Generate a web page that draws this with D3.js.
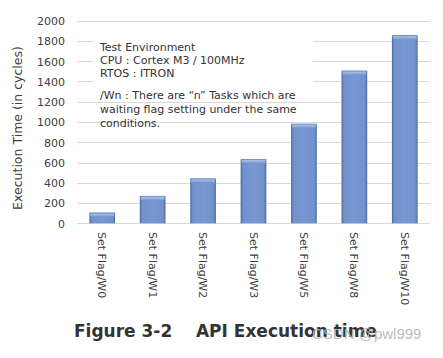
<!DOCTYPE html>
<html><head><meta charset="utf-8">
<script src="https://cdn.jsdelivr.net/npm/d3@7"></script>
<style>
html,body{margin:0;padding:0;background:#fff;}
svg{display:block;}
</style></head>
<body>
<script>
const categories = ["Set Flag/W0","Set Flag/W1","Set Flag/W2","Set Flag/W3","Set Flag/W5","Set Flag/W8","Set Flag/W10"];
const values = [105, 270, 442, 633, 982, 1506, 1856];
const yTicks = [0,200,400,600,800,1000,1200,1400,1600,1800,2000];
const noteLines1 = ["Test Environment","CPU : Cortex M3 / 100MHz","RTOS : ITRON"];
const noteLines2 = ["/Wn : There are \u201cn\u201d Tasks which are","waiting flag setting under the same","conditions."];
const yTitle = "Execution Time (in cycles)";
const figTitle = "Figure 3-2    API Execution time";
const watermark = "CSDN @pwl999";

const W = 443, H = 358;
const svg = d3.select("body").append("svg").attr("width", W).attr("height", H);
const font = "'DejaVu Sans', Verdana, sans-serif";

const x = d3.scaleBand().domain(categories).range([77, 430]).paddingInner(0.49).paddingOuter(0.245);
const y = d3.scaleLinear().domain([0, 2000]).range([223.3, 20.7]);

const defs = svg.append("defs");
const g = defs.append("linearGradient").attr("id","barg").attr("x1","0").attr("x2","1").attr("y1","0").attr("y2","0");
[[0,"#4d6ca6"],[0.1,"#7192cc"],[0.5,"#7798d1"],[0.9,"#7192cc"],[1,"#4d6ca6"]].forEach(([o,c])=>g.append("stop").attr("offset",o).attr("stop-color",c));
const gt = defs.append("linearGradient").attr("id","topg").attr("x1","0").attr("x2","0").attr("y1","0").attr("y2","1");
[[0,"#5f7fb8"],[0.35,"#a7bde4"],[1,"#7a9ad2"]].forEach(([o,c])=>gt.append("stop").attr("offset",o).attr("stop-color",c));

// gridlines
svg.append("g").selectAll("line").data(yTicks.filter(d=>d>0)).join("line")
  .attr("x1",77).attr("x2",430).attr("y1",d=>Math.round(y(d))+0.5).attr("y2",d=>Math.round(y(d))+0.5)
  .attr("stroke","#d9d9d9").attr("stroke-width",1);

// y axis labels
const yAxis = d3.axisLeft(y).tickValues(yTicks).tickFormat(d3.format("d")).tickSize(0).tickPadding(0);
const ya = svg.append("g").attr("transform","translate(65,0)").call(yAxis);
ya.select(".domain").remove();
ya.selectAll("text").attr("font-family",font).attr("font-size",11).attr("fill","#404040").attr("dy","0.35em");

// x axis line
svg.append("line").attr("x1",77).attr("x2",430).attr("y1",223.5).attr("y2",223.5).attr("stroke","#d9d9d9");

// note box (white backdrop)
svg.append("rect").attr("x",93).attr("y",34).attr("width",220).attr("height",54).attr("fill","#fff");
const note = svg.append("g").attr("font-family",font).attr("font-size",11).attr("fill","#333");
note.selectAll("text.n1").data(noteLines1).join("text").attr("class","n1")
  .attr("x",100).attr("y",(d,i)=>50.5+i*13.3).text(d=>d);
note.selectAll("text.n2").data(noteLines2).join("text").attr("class","n2")
  .attr("x",100).attr("y",(d,i)=>99+i*13.8).text(d=>d);

// bars
const bars = svg.append("g");
bars.selectAll("rect.b").data(values).join("rect").attr("class","b")
  .attr("x",(d,i)=>x(categories[i])).attr("width",x.bandwidth())
  .attr("y",d=>y(d)).attr("height",d=>y(0)-y(d)).attr("fill","url(#barg)");
bars.selectAll("rect.t").data(values).join("rect").attr("class","t")
  .attr("x",(d,i)=>x(categories[i])+1).attr("width",x.bandwidth()-2)
  .attr("y",d=>y(d)).attr("height",4).attr("fill","url(#topg)");

// x labels rotated
const xl = svg.append("g").attr("font-family",font).attr("font-size",11).attr("fill","#404040");
xl.selectAll("text").data(categories).join("text")
  .attr("transform",d=>`translate(${x(d)+x.bandwidth()/2},232) rotate(90)`)
  .attr("dy","0.35em").text(d=>d);

// y title
svg.append("text").attr("transform","translate(18,128) rotate(-90)")
  .attr("text-anchor","middle").attr("dy","0.35em")
  .attr("font-family",font).attr("font-size",12.5).attr("fill","#404040").text(yTitle);

// figure title
svg.append("text").attr("x",74).attr("y",337).attr("xml:space","preserve").style("white-space","pre")
  .attr("font-family",font).attr("font-weight","bold").attr("font-size",17).attr("fill","#333").text(figTitle);

// watermark
svg.append("text").attr("x",312).attr("y",339).attr("font-family","'Liberation Sans', Arial, sans-serif")
  .attr("font-size",15).attr("fill","#b3b3b3").attr("fill-opacity",0.9).text(watermark);
</script>
</body></html>
